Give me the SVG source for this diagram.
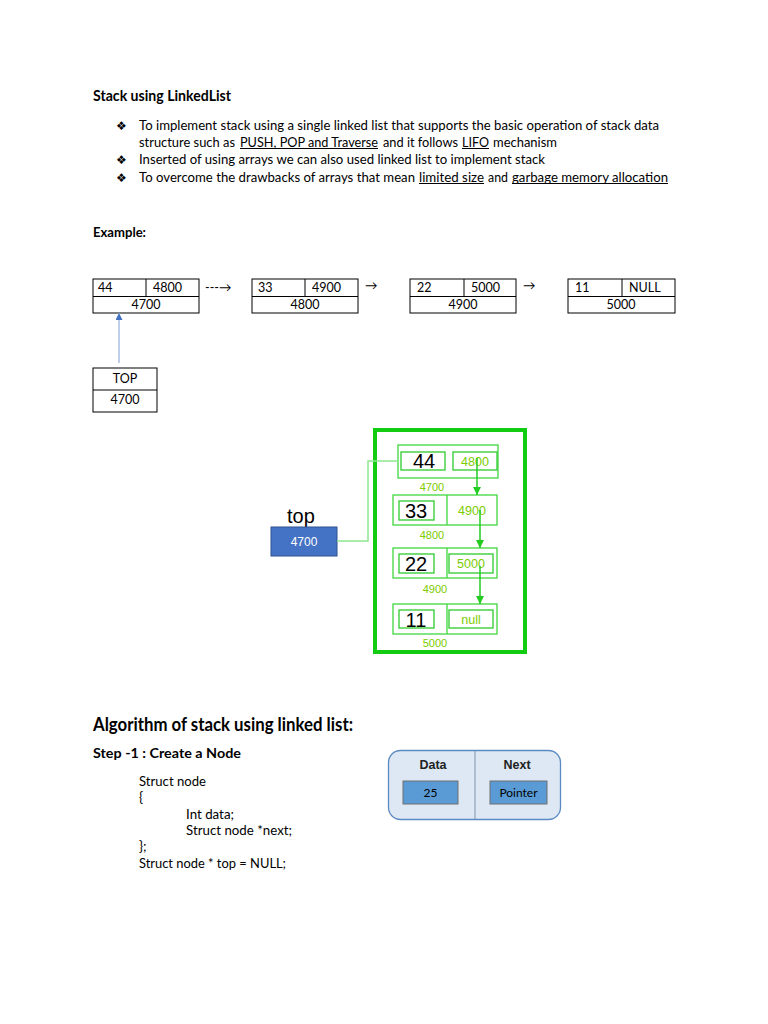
<svg xmlns="http://www.w3.org/2000/svg" width="768" height="1024" viewBox="0 0 768 1024">
<defs>
<style>
.body{font-family:Lato,"Liberation Sans",sans-serif;font-size:13px;fill:#000}
.code{font-family:Lato,"Liberation Sans",sans-serif;font-size:13.5px;fill:#000}
.bold{font-family:Lato,"Liberation Sans",sans-serif;font-weight:bold;fill:#000}
.bul{font-family:"DejaVu Sans",sans-serif;font-size:12px;fill:#000}
.ul{stroke:#000;stroke-width:1}
.cell{fill:#fff;stroke:#000;stroke-width:1}
.ct{font-family:Lato,"Liberation Sans",sans-serif;font-size:12.5px;fill:#000}
.gnode{fill:none;stroke:#3fd83f;stroke-width:1.3}
.gin{fill:none;stroke:#2ecc2e;stroke-width:1.3}
.num{font-family:"Liberation Sans",Arial,sans-serif;font-size:20px;fill:#000}
.addr{font-family:"Liberation Sans",Arial,sans-serif;font-size:11px;fill:#7ccc00}
.addr2{font-family:"Liberation Sans",Arial,sans-serif;font-size:12.5px;fill:#7ccc00}
.gline{stroke:#22cc22;stroke-width:1.5;fill:none}
.cal{font-family:Lato,"Liberation Sans",sans-serif;font-size:12px;fill:#000}
.hd{font-family:"Liberation Sans",Arial,sans-serif;font-weight:bold;font-size:12.5px;fill:#222}
</style>
<marker id="garrow" viewBox="0 0 10 10" refX="10" refY="5" markerWidth="12" markerHeight="8" markerUnits="userSpaceOnUse" orient="auto">
<path d="M0,0 L10,5 L0,10 z" fill="#22cc22"/>
</marker>
<marker id="barrow" viewBox="0 0 10 10" refX="10" refY="5" markerWidth="9" markerHeight="7" markerUnits="userSpaceOnUse" orient="auto">
<path d="M0,0 L10,5 L0,10 z" fill="#4472c4"/>
</marker>
</defs>
<rect width="768" height="1024" fill="#fff"/>

<!-- Header text -->
<text class="bold" x="93" y="101" font-size="14.5" textLength="138" lengthAdjust="spacingAndGlyphs">Stack using LinkedList</text>
<text class="bul" x="116" y="130">❖</text>
<text class="body" x="139" y="130" textLength="520" lengthAdjust="spacingAndGlyphs">To implement stack using a single linked list that supports the basic operation of stack data</text>
<text class="body" x="139" y="147" textLength="96" lengthAdjust="spacingAndGlyphs">structure such as</text>
<text class="body" x="240" y="147" textLength="138" lengthAdjust="spacingAndGlyphs">PUSH, POP and Traverse</text>
<line class="ul" x1="240" y1="148.5" x2="378" y2="148.5"/>
<text class="body" x="383" y="147" textLength="75" lengthAdjust="spacingAndGlyphs">and it follows</text>
<text class="body" x="462" y="147" textLength="27" lengthAdjust="spacingAndGlyphs">LIFO</text>
<line class="ul" x1="462" y1="148.5" x2="489" y2="148.5"/>
<text class="body" x="493" y="147" textLength="64" lengthAdjust="spacingAndGlyphs">mechanism</text>
<text class="bul" x="116" y="164">❖</text>
<text class="body" x="139" y="164" textLength="406" lengthAdjust="spacingAndGlyphs">Inserted of using arrays we can also used linked list to implement stack</text>
<text class="bul" x="116" y="182">❖</text>
<text class="body" x="139" y="182" textLength="276" lengthAdjust="spacingAndGlyphs">To overcome the drawbacks of arrays that mean</text>
<text class="body" x="419" y="182" textLength="65" lengthAdjust="spacingAndGlyphs">limited size</text>
<line class="ul" x1="419" y1="183.5" x2="484" y2="183.5"/>
<text class="body" x="488" y="182" textLength="20" lengthAdjust="spacingAndGlyphs">and</text>
<text class="body" x="512" y="182" textLength="156" lengthAdjust="spacingAndGlyphs">garbage memory allocation</text>
<line class="ul" x1="512" y1="183.5" x2="668" y2="183.5"/>

<text class="bold" x="93" y="237" font-size="13" textLength="53" lengthAdjust="spacingAndGlyphs">Example:</text>

<!-- Example nodes -->
<g id="ex-node-4700">
<rect class="cell" x="93" y="279" width="106" height="34"/>
<line x1="93" y1="296.5" x2="199" y2="296.5" stroke="#000"/>
<line x1="146" y1="279" x2="146" y2="296.5" stroke="#000"/>
<text class="ct" x="98" y="292">44</text>
<text class="ct" x="153" y="292">4800</text>
<text class="ct" x="146" y="309" text-anchor="middle">4700</text>
</g>
<g id="ex-node-4800">
<rect class="cell" x="252" y="279" width="106" height="34"/>
<line x1="252" y1="296.5" x2="358" y2="296.5" stroke="#000"/>
<line x1="305" y1="279" x2="305" y2="296.5" stroke="#000"/>
<text class="ct" x="258" y="292">33</text>
<text class="ct" x="312" y="292">4900</text>
<text class="ct" x="305" y="309" text-anchor="middle">4800</text>
</g>
<g id="ex-node-4900">
<rect class="cell" x="410" y="279" width="106" height="34"/>
<line x1="410" y1="296.5" x2="516" y2="296.5" stroke="#000"/>
<line x1="464" y1="279" x2="464" y2="296.5" stroke="#000"/>
<text class="ct" x="417" y="292">22</text>
<text class="ct" x="471" y="292">5000</text>
<text class="ct" x="463" y="309" text-anchor="middle">4900</text>
</g>
<g id="ex-node-5000">
<rect class="cell" x="568" y="279" width="107" height="34"/>
<line x1="568" y1="296.5" x2="675" y2="296.5" stroke="#000"/>
<line x1="622" y1="279" x2="622" y2="296.5" stroke="#000"/>
<text class="ct" x="575" y="292">11</text>
<text class="ct" x="629" y="292">NULL</text>
<text class="ct" x="621" y="309" text-anchor="middle">5000</text>
</g>
<g id="ex-top">
<rect class="cell" x="93" y="368" width="64" height="44"/>
<line x1="93" y1="390" x2="157" y2="390" stroke="#000"/>
<text class="ct" x="125" y="383" text-anchor="middle">TOP</text>
<text class="ct" x="125" y="404" text-anchor="middle">4700</text>
</g>
<g id="ex-connectors">
<text class="ct" x="205" y="292">---→</text>
<text class="ct" x="365" y="290">→</text>
<text class="ct" x="523" y="290">→</text>
<line x1="119" y1="363" x2="119" y2="313" stroke="#9db5e0" stroke-width="1.3" marker-end="url(#barrow)"/>
</g>

<!-- Green stack diagram -->
<g id="stack-frame">
<rect x="375" y="430" width="150" height="222" fill="none" stroke="#11cc11" stroke-width="4"/>
</g>
<g id="g-top">
<text x="287" y="523" font-family="'Liberation Sans',Arial,sans-serif" font-size="20" fill="#000">top</text>
<rect x="271" y="527" width="66" height="29" fill="#4472c4" stroke="#2f528f" stroke-width="1"/>
<text x="304" y="546" text-anchor="middle" font-family="'Liberation Sans',Arial,sans-serif" font-size="12" fill="#fff">4700</text>
</g>
<g id="g-node-4700">
<rect class="gnode" x="398" y="445" width="100" height="33"/>
<rect class="gin" x="401" y="452" width="44" height="18"/>
<rect class="gin" x="453" y="452" width="44" height="18"/>
<text class="num" x="424" y="468" text-anchor="middle">44</text>
<text class="addr2" x="475" y="466" text-anchor="middle">4800</text>
<text class="addr" x="432" y="491" text-anchor="middle">4700</text>
</g>
<g id="g-node-4800">
<rect class="gnode" x="393" y="495" width="104" height="30"/>
<line class="gnode" x1="447" y1="495" x2="447" y2="525"/>
<rect class="gin" x="399" y="501" width="35" height="19"/>
<text class="num" x="416" y="518" text-anchor="middle">33</text>
<text class="addr2" x="472" y="515" text-anchor="middle">4900</text>
<text class="addr" x="432" y="539" text-anchor="middle">4800</text>
</g>
<g id="g-node-4900">
<rect class="gnode" x="393" y="548" width="104" height="30"/>
<line class="gnode" x1="447" y1="548" x2="447" y2="578"/>
<rect class="gin" x="399" y="554" width="35" height="19"/>
<rect class="gin" x="449" y="554" width="44" height="19"/>
<text class="num" x="416" y="571" text-anchor="middle">22</text>
<text class="addr2" x="471" y="568" text-anchor="middle">5000</text>
<text class="addr" x="435" y="593" text-anchor="middle">4900</text>
</g>
<g id="g-node-5000">
<rect class="gnode" x="393" y="604" width="104" height="30"/>
<line class="gnode" x1="447" y1="604" x2="447" y2="634"/>
<rect class="gin" x="399" y="610" width="35" height="18"/>
<rect class="gin" x="449" y="610" width="44" height="18"/>
<text class="num" x="416" y="627" text-anchor="middle">11</text>
<text class="addr2" x="471" y="624" text-anchor="middle">null</text>
<text class="addr" x="435" y="647" text-anchor="middle">5000</text>
</g>
<g id="g-connectors">
<polyline points="337,541 368,541 368,461 398,461" fill="none" stroke="#8fe88f" stroke-width="1.5"/>
<line class="gline" x1="477" y1="458" x2="477" y2="495" marker-end="url(#garrow)"/>
<line class="gline" x1="480" y1="510" x2="480" y2="548" marker-end="url(#garrow)"/>
<line class="gline" x1="480" y1="566" x2="480" y2="604" marker-end="url(#garrow)"/>
</g>

<!-- Algorithm section -->
<text class="bold" x="93" y="731" font-size="18" textLength="260" lengthAdjust="spacingAndGlyphs">Algorithm of stack using linked list:</text>
<text class="bold" x="93" y="758" font-size="13" textLength="148" lengthAdjust="spacingAndGlyphs">Step -1 : Create a Node</text>
<text class="code" x="139" y="786" textLength="67" lengthAdjust="spacingAndGlyphs">Struct node</text>
<text class="code" x="139" y="802">{</text>
<text class="code" x="186" y="819" textLength="48" lengthAdjust="spacingAndGlyphs">Int data;</text>
<text class="code" x="186" y="835" textLength="106" lengthAdjust="spacingAndGlyphs">Struct node *next;</text>
<text class="code" x="139" y="851">};</text>
<text class="code" x="139" y="868" textLength="147" lengthAdjust="spacingAndGlyphs">Struct node * top = NULL;</text>

<g id="node-struct">
<rect x="388.5" y="750.5" width="172" height="69" rx="12" ry="12" fill="#dde8f4" stroke="#5b8ac2" stroke-width="1.3"/>
<line x1="475" y1="751" x2="475" y2="819" stroke="#7f93aa" stroke-width="1"/>
<text class="hd" x="433" y="769" text-anchor="middle">Data</text>
<text class="hd" x="517" y="769" text-anchor="middle">Next</text>
<rect x="403" y="781" width="55" height="23" fill="#5b9bd5" stroke="#6f6f6f" stroke-width="1"/>
<rect x="490" y="781" width="57" height="23" fill="#5b9bd5" stroke="#6f6f6f" stroke-width="1"/>
<text class="cal" x="430.5" y="797" text-anchor="middle">25</text>
<text class="cal" x="518.5" y="797" text-anchor="middle">Pointer</text>
</g>
</svg>
